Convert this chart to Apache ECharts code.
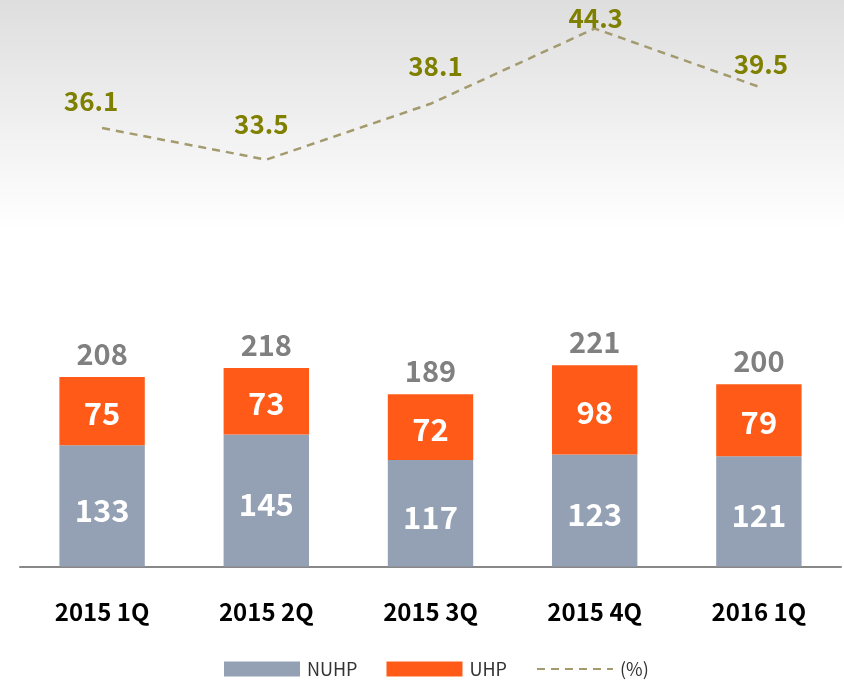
<!DOCTYPE html>
<html>
<head>
<meta charset="utf-8">
<script src="https://cdn.jsdelivr.net/npm/echarts@6/dist/echarts.min.js"></script>
<style>
  html, body { margin: 0; padding: 0; background: #fff; }
  #main { width: 844px; height: 684px; }
</style>
</head>
<body>
<div id="main"></div>
<script>
var quarters = ['2015 1Q', '2015 2Q', '2015 3Q', '2015 4Q', '2016 1Q'];
var nuhp = [133, 145, 117, 123, 121];
var uhp = [75, 73, 72, 98, 79];
var totals = [208, 218, 189, 221, 200];
var ratio = [36.1, 33.5, 38.1, 44.3, 39.5];

// label nudges for the ratio line, as in the original slide
var ratioLabelOffsets = [[-11, -13], [-5, -22], [5, -24], [1, 3], [2, -9]];

var font = '"Noto Sans CJK KR", "Noto Sans", sans-serif';
var clear = 'rgba(0,0,0,0)';

var myChart = echarts.init(document.getElementById('main'));

var option = {
    backgroundColor: '#fff',
    textStyle: { fontFamily: font },
    graphic: [{
        type: 'rect',
        z: -10,
        shape: { x: 0, y: 0, width: 844, height: 230 },
        style: {
            fill: new echarts.graphic.LinearGradient(0, 0, 0, 1, [
                { offset: 0, color: '#dedede' },
                { offset: 1, color: '#ffffff' }
            ])
        }
    }],
    legend: {
        left: 219,
        top: 655,
        itemWidth: 76,
        itemHeight: 15,
        itemGap: 29,
        textStyle: { fontSize: 18, color: '#333', fontFamily: font, padding: [0, 0, 0, 2] },
        data: [
            { name: 'NUHP', icon: 'rect' },
            { name: 'UHP', icon: 'rect' },
            { name: '(%)', itemStyle: { color: clear, borderWidth: 0 } }
        ]
    },
    grid: { left: 20, right: 3, top: 20, bottom: 117.5 },
    xAxis: {
        type: 'category',
        data: quarters,
        axisTick: { show: false },
        axisLine: { lineStyle: { color: '#888', width: 2 } },
        axisLabel: {
            margin: 33,
            fontSize: 24,
            fontWeight: 'bold',
            color: '#000',
            fontFamily: font
        }
    },
    yAxis: [
        { type: 'value', min: 0, max: 600, show: false },
        { type: 'value', min: 0, max: 45, show: false }
    ],
    series: [
        {
            name: 'NUHP',
            type: 'bar',
            stack: 'sum',
            barWidth: '52%',
            data: nuhp,
            itemStyle: { color: '#94a0b3' },
            label: {
                show: true,
                position: 'inside',
                offset: [0, 4],
                color: '#fff',
                fontSize: 31,
                fontWeight: 'bold',
                fontFamily: font
            }
        },
        {
            name: 'UHP',
            type: 'bar',
            stack: 'sum',
            data: uhp,
            itemStyle: { color: '#ff5a17' },
            label: {
                show: true,
                position: 'inside',
                offset: [0, 2],
                color: '#fff',
                fontSize: 31,
                fontWeight: 'bold',
                fontFamily: font
            }
        },
        {
            name: 'total',
            type: 'line',
            data: totals,
            symbol: 'circle',
            symbolSize: 1,
            itemStyle: { color: clear },
            lineStyle: { width: 0, opacity: 0 },
            silent: true,
            label: {
                show: true,
                position: 'top',
                distance: 8,
                color: '#808080',
                fontSize: 29,
                fontWeight: 'bold',
                fontFamily: font
            }
        },
        {
            name: '(%)',
            type: 'line',
            yAxisIndex: 1,
            symbol: 'circle',
            symbolSize: 1,
            data: ratio.map(function (v, i) {
                return { value: v, label: { offset: ratioLabelOffsets[i] } };
            }),
            itemStyle: { color: clear },
            lineStyle: { color: '#a39a6e', width: 2.5, type: [8, 6] },
            label: {
                show: true,
                position: 'top',
                distance: 0,
                color: '#808000',
                fontSize: 26,
                fontWeight: 'bold',
                fontFamily: font
            }
        }
    ]
};

myChart.setOption(option);
</script>
</body>
</html>
